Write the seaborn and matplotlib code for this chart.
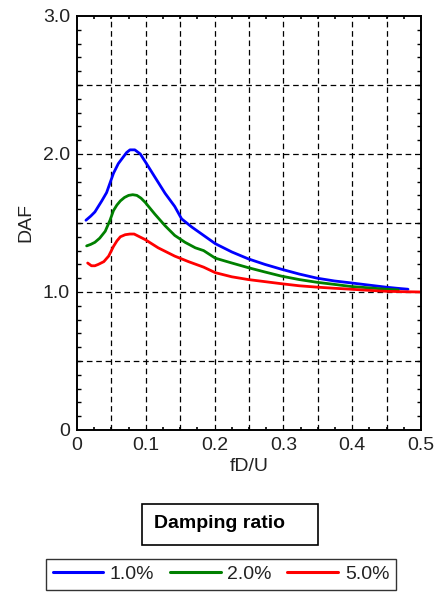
import numpy as np
import pandas as pd
import seaborn as sns
import matplotlib
matplotlib.use('Agg')
import matplotlib.pyplot as plt
from matplotlib.patches import Rectangle
from matplotlib.ticker import MultipleLocator

# DAF vs reduced frequency
x_1pct = [0.013, 0.020, 0.026, 0.031, 0.036, 0.043, 0.048, 0.053, 0.060, 0.066,
          0.072, 0.077, 0.084, 0.092, 0.101, 0.113, 0.128, 0.142, 0.152, 0.167,
          0.184, 0.201, 0.225, 0.249, 0.273, 0.297, 0.323, 0.349, 0.374, 0.398,
          0.424, 0.449, 0.465, 0.481]
daf_1pct = [1.52, 1.55, 1.58, 1.62, 1.66, 1.72, 1.79, 1.86, 1.93, 1.97,
            2.01, 2.03, 2.03, 2.00, 1.93, 1.834, 1.715, 1.62, 1.53, 1.47,
            1.41, 1.35, 1.29, 1.24, 1.20, 1.165, 1.13, 1.10, 1.08, 1.066,
            1.05, 1.035, 1.027, 1.02]

x_2pct = [0.014, 0.020, 0.026, 0.033, 0.041, 0.048, 0.053, 0.058, 0.063, 0.069,
          0.075, 0.081, 0.087, 0.093, 0.099, 0.113, 0.128, 0.142, 0.157, 0.172,
          0.184, 0.201, 0.225, 0.249, 0.273, 0.297, 0.323, 0.349, 0.374, 0.398,
          0.424, 0.449, 0.467]
daf_2pct = [1.334, 1.345, 1.36, 1.39, 1.44, 1.52, 1.59, 1.63, 1.66, 1.685,
            1.70, 1.705, 1.70, 1.68, 1.65, 1.565, 1.48, 1.41, 1.36, 1.32,
            1.30, 1.245, 1.21, 1.176, 1.145, 1.115, 1.09, 1.07, 1.055, 1.04,
            1.03, 1.02, 1.015]

x_5pct = [0.0155, 0.021, 0.026, 0.031, 0.039, 0.046, 0.053, 0.058, 0.063, 0.070,
          0.077, 0.083, 0.087, 0.093, 0.099, 0.118, 0.142, 0.162, 0.184, 0.201,
          0.225, 0.249, 0.273, 0.297, 0.323, 0.349, 0.374, 0.398, 0.424, 0.449,
          0.475, 0.5]
daf_5pct = [1.21, 1.19, 1.19, 1.20, 1.22, 1.26, 1.33, 1.37, 1.40, 1.415,
            1.42, 1.42, 1.41, 1.395, 1.38, 1.32, 1.26, 1.22, 1.18, 1.14,
            1.11, 1.09, 1.075, 1.06, 1.045, 1.035, 1.027, 1.02, 1.012, 1.005,
            1.002, 1.0]

ratio_labels = ["1.0%", "2.0%", "5.0%"]
ratio_colors = ["#0000ff", "#008000", "#ff0000"]

x_ticks = [0, 0.1, 0.2, 0.3, 0.4, 0.5]
x_ticklabels = ["0", "0.1", "0.2", "0.3", "0.4", "0.5"]
y_ticks = [0, 1, 2, 3]
y_ticklabels = ["0", "1.0", "2.0", "3.0"]

df = pd.concat([
    pd.DataFrame({"fD/U": x_1pct, "DAF": daf_1pct, "ratio": ratio_labels[0]}),
    pd.DataFrame({"fD/U": x_2pct, "DAF": daf_2pct, "ratio": ratio_labels[1]}),
    pd.DataFrame({"fD/U": x_5pct, "DAF": daf_5pct, "ratio": ratio_labels[2]}),
], ignore_index=True)

sns.set_theme(style="white")
plt.rcParams['font.family'] = ['Liberation Sans', 'DejaVu Sans']
txt_col = "#222222"

fig = plt.figure(figsize=(4.35, 5.94), dpi=100)
ax = fig.add_axes([0.177, 0.2761, 0.791, 0.697])

sns.lineplot(
    data=df, x="fD/U", y="DAF", hue="ratio",
    palette=dict(zip(ratio_labels, ratio_colors)),
    linewidth=2.0, sort=False, ax=ax,
)

ax.set_xlim(0, 0.5)
ax.set_ylim(0, 3)

# dashed grid every 0.05 / 0.5
ax.xaxis.set_minor_locator(MultipleLocator(0.025))
for gx in np.arange(0.05, 0.5, 0.05):
    ax.axvline(gx, color="black", lw=0.9, ls=(0, (4.5, 3)), zorder=0)
for gy in np.arange(0.5, 3.0, 0.5):
    ax.axhline(gy, color="black", lw=0.9, ls=(0, (4.5, 3)), zorder=0)

ax.set_xticks(x_ticks)
ax.set_xticklabels(x_ticklabels)
ax.set_yticks(y_ticks)
ax.set_yticklabels(y_ticklabels)
ax.yaxis.set_minor_locator(MultipleLocator(0.1))

ax.tick_params(axis="both", which="major", direction="in", length=0,
               labelsize=14, labelcolor=txt_col, pad=5)
ax.tick_params(axis="y", which="minor", direction="in", length=3,
               width=1, color="black", left=True, right=True)
ax.tick_params(axis="x", which="minor", direction="in", length=2,
               width=1.2, color="black", bottom=True, top=True)

for s in ax.spines.values():
    s.set_color("black")
    s.set_linewidth(1.4)

ax.set_xlabel("fD/U", fontsize=14, color=txt_col, labelpad=3)
ax.set_ylabel("DAF", fontsize=14, color=txt_col, labelpad=6)

# legend moved under the plot, with its title in a separate box
handles, labels = ax.get_legend_handles_labels()
ax.get_legend().remove()
for h in handles:
    h.set_linewidth(2.2)
fig.legend(
    handles, labels,
    loc="upper center", bbox_to_anchor=(0.508, 1 - 549 / 594),
    ncol=3, fontsize=14, frameon=True, fancybox=False,
    edgecolor="black", handlelength=2.6, handletextpad=0.35,
    columnspacing=0.8, borderpad=0.35, labelcolor=txt_col,
)

fig.add_artist(Rectangle((142 / 435, 1 - 545 / 594), 176 / 435, 41 / 594,
                         transform=fig.transFigure, fill=False,
                         edgecolor="black", lw=1.2))
fig.text(220 / 435, 1 - 524 / 594, "Damping ratio", ha="center", va="center",
         fontsize=14, fontweight="bold", color="black")

fig.savefig("out.png", dpi=100)
